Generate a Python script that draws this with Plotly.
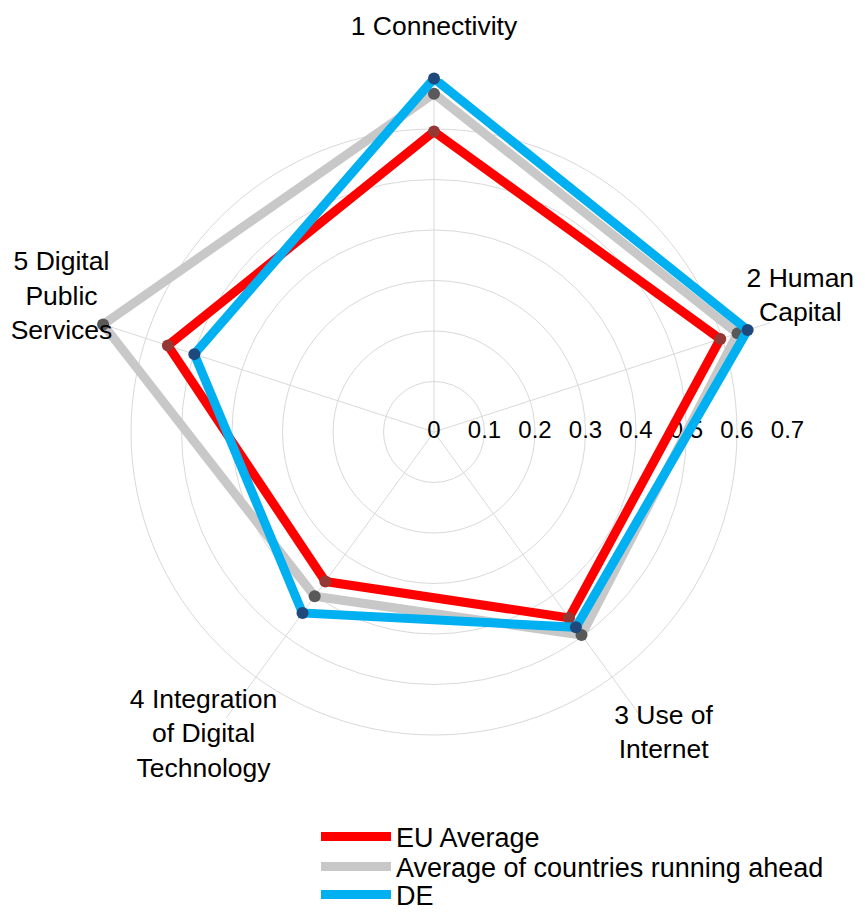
import plotly.graph_objects as go

# ---------------- data ----------------
categories = ["1 Connectivity", "2 Human<br>Capital", "3 Use of<br>Internet",
              "4 Integration<br>of Digital<br>Technology", "5 Digital<br>Public<br>Services"]
eu_average = [0.595, 0.596, 0.455, 0.366, 0.554]
ahead_average = [0.670, 0.632, 0.497, 0.402, 0.689]
de_values = [0.700, 0.653, 0.478, 0.443, 0.499]
radial_ticks = [0, 0.1, 0.2, 0.3, 0.4, 0.5, 0.6, 0.7]
radial_tick_labels = ["0", "0.1", "0.2", "0.3", "0.4", "0.5", "0.6", "0.7"]
series_names = ["EU Average", "Average of countries running ahead", "DE"]

# ---------------- layout helpers ----------------
W, H = 865, 913
PAGE_OFFSET = 7.5              # default body margin of the html page
CX, CY = 433.5 - PAGE_OFFSET, 431.5 - PAGE_OFFSET   # centre of the radar in px
PX_PER_UNIT = 505.0            # px per radial unit
FONT = "Arial, Liberation Sans, sans-serif"
FS_LABEL = 26.5
FS_LEGEND = 27
FS_TICK = 24

n = len(categories)
theta = [90 - 360.0 / n * i for i in range(n)]
theta_closed = theta + theta[:1]


def domain(rmax):
    rpx = rmax * PX_PER_UNIT
    return dict(x=[(CX - rpx) / W, (CX + rpx) / W],
                y=[1 - (CY + rpx) / H, 1 - (CY - rpx) / H])


RMAX = radial_ticks[-1]
LABEL_RMAX = 0.83
label_r = [0.80, 0.773, 0.752, 0.755, 0.784]
label_dtheta = [0, 2.2, 1.2, -1.2, -1.8]
label_theta = [t + d for t, d in zip(theta, label_dtheta)]

line_colors = ["#FF0000", "#C8C8C8", "#00B0F0"]
marker_colors = ["#953735", "#595959", "#1F497D"]
series = [eu_average, ahead_average, de_values]
legend_ids = ["legend", "legend2", "legend3"]
legend_centers = [836, 866, 894]     # screen px of each legend row

fig = go.Figure()

# radial tick labels (drawn under the data)
fig.add_trace(go.Scatterpolar(
    r=radial_ticks, theta=[0] * len(radial_ticks), text=radial_tick_labels,
    mode="text", textposition="middle center",
    textfont=dict(family=FONT, size=FS_TICK, color="#000000"),
    showlegend=False, hoverinfo="skip", cliponaxis=False, subplot="polar"))

for name, vals, lc, mc, lg in zip(series_names, series, line_colors,
                                  marker_colors, legend_ids):
    fig.add_trace(go.Scatterpolar(
        r=vals + vals[:1], theta=theta_closed, mode="lines", name=name,
        line=dict(color=lc, width=9), cliponaxis=False, subplot="polar",
        legend=lg))
    fig.add_trace(go.Scatterpolar(
        r=vals, theta=theta, mode="markers", name=name, showlegend=False,
        marker=dict(color=mc, size=12), cliponaxis=False, subplot="polar"))

# category labels on an overlaid, invisible polar subplot
fig.add_trace(go.Scatterpolar(
    r=label_r, theta=label_theta, text=categories, mode="text",
    textposition="middle center",
    textfont=dict(family=FONT, size=FS_LABEL, color="#000000"),
    showlegend=False, hoverinfo="skip", cliponaxis=False, subplot="polar2"))

grid = "#D9D9D9"
ITEMWIDTH = 70
legend_x = (397 - 11.5 - ITEMWIDTH - PAGE_OFFSET) / W
legends = {}
for lg, yc in zip(legend_ids, legend_centers):
    legends[lg] = dict(orientation="v", x=legend_x, xanchor="left",
                       y=1 - (yc - 24 - PAGE_OFFSET) / H, yanchor="top",
                       font=dict(family=FONT, size=FS_LEGEND, color="#000000"),
                       bgcolor="rgba(0,0,0,0)", itemwidth=ITEMWIDTH)

fig.update_layout(
    width=W, height=H,
    margin=dict(l=0, r=0, t=0, b=0, autoexpand=False),
    paper_bgcolor="white", plot_bgcolor="white",
    font=dict(family=FONT, size=FS_LABEL, color="#000000"),
    polar=dict(
        domain=domain(RMAX),
        bgcolor="rgba(0,0,0,0)",
        radialaxis=dict(range=[0, RMAX], tickmode="array", tickvals=radial_ticks,
                        showticklabels=False, ticks="", showline=False,
                        gridcolor=grid, gridwidth=1, angle=0),
        angularaxis=dict(type="linear", thetaunit="degrees", rotation=0,
                         direction="counterclockwise", tickmode="array",
                         tickvals=[t % 360 for t in theta], showticklabels=False,
                         ticks="", showline=False, gridcolor=grid, gridwidth=1),
    ),
    polar2=dict(
        domain=domain(LABEL_RMAX),
        bgcolor="rgba(0,0,0,0)",
        radialaxis=dict(range=[0, LABEL_RMAX], visible=False, showgrid=False),
        angularaxis=dict(type="linear", thetaunit="degrees", rotation=0,
                         direction="counterclockwise", visible=False,
                         showgrid=False, showline=False),
    ),
    **legends,
)

fig.write_html("out.html")
